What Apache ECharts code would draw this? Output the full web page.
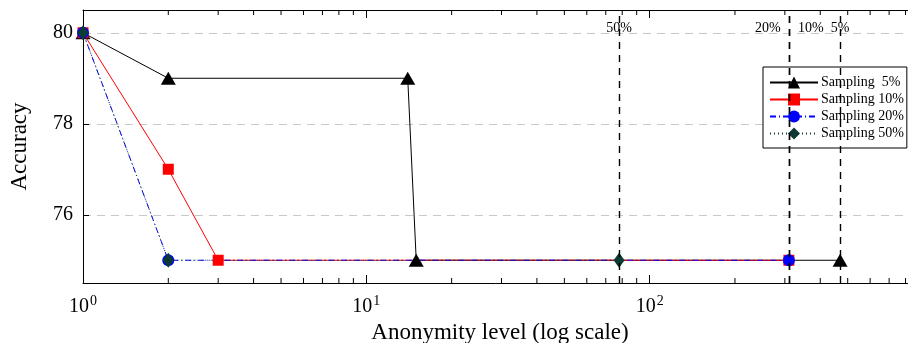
<!DOCTYPE html>
<html>
<head>
<meta charset="utf-8">
<script src="https://cdn.jsdelivr.net/npm/echarts@6/dist/echarts.min.js"></script>
<style>
  html, body { margin: 0; padding: 0; background: #fff; }
  #chart { width: 908px; height: 343px; }
</style>
</head>
<body>
<div id="chart"></div>
<script>
// anonymity level (x) and accuracy (y) per sampling rate
var s5x = [1, 2, 14, 15, 470];
var s5y = [80, 79, 79, 75, 75];
var s10x = [1, 2, 3, 310];
var s10y = [80, 77, 75, 75];
var s20x = [1, 2, 310];
var s20y = [80, 75, 75];
var s50x = [1, 2, 78];
var s50y = [80, 75, 75];

// max anonymity level marks
var markX = [78, 310, 310, 470];
var markText = ['50%', '20%', '10%', '5%'];

var yTicks = [76, 78, 80];
var xMinor = [2, 3, 4, 5, 6, 7, 8, 9, 20, 30, 40, 50, 60, 70, 80, 90,
  200, 300, 400, 500, 600, 700, 800, 900];

var FONT = 'Liberation Serif';

function pairs(xs, ys) {
  return xs.map(function (x, i) { return [x, ys[i]]; });
}

var chart = echarts.init(document.getElementById('chart'));

var markOffsets = { '50%': [0, 30], '20%': [-21, 30], '10%': [22, 30], '5%': [0, 30] };

chart.setOption({
  animation: false,
  backgroundColor: '#fff',
  grid: { left: 83, right: -25, top: 10, bottom: 60, outerBoundsMode: 'none', containLabel: false },
  legend: {
    orient: 'vertical',
    left: 763,
    top: 67,
    padding: [8, 3, 7, 6],
    itemGap: 2,
    itemWidth: 48,
    itemHeight: 15,
    borderColor: '#000',
    borderWidth: 1,
    backgroundColor: '#fff',
    textStyle: { fontFamily: FONT, fontSize: 14, color: '#000', lineHeight: 15, padding: [0, 0, 0, -2] },
    data: ['Sampling  5%', 'Sampling 10%', 'Sampling 20%', 'Sampling 50%']
  },
  xAxis: [{
    type: 'log',
    logBase: 10,
    min: 1,
    max: 1000,
    name: 'Anonymity level (log scale)',
    nameLocation: 'middle',
    nameGap: 36,
    nameTextStyle: { fontFamily: FONT, fontSize: 23, color: '#000', padding: [0, 16, 0, 0] },
    axisLine: { lineStyle: { color: '#000', width: 1 } },
    axisTick: { inside: true, length: 8, lineStyle: { color: '#000' } },
    splitLine: { show: false },
    axisLabel: {
      margin: 11,
      formatter: function (v) {
        return '{b|10}{s|' + Math.round(Math.log10(v)) + '}';
      },
      rich: {
        b: { fontFamily: FONT, fontSize: 20, color: '#000' },
        s: { fontFamily: FONT, fontSize: 14, color: '#000', padding: [0, 0, 12, 1] }
      }
    }
  }, {
    type: 'log',
    logBase: 10,
    min: 1,
    max: 1000,
    position: 'top',
    axisLine: { lineStyle: { color: '#000', width: 1 } },
    axisTick: { inside: true, length: 8, lineStyle: { color: '#000' } },
    axisLabel: { show: false },
    splitLine: { show: false }
  }],
  yAxis: {
    type: 'value',
    min: 74.5,
    max: 80.5,
    name: 'Accuracy',
    nameLocation: 'middle',
    nameGap: 52,
    nameTextStyle: { fontFamily: FONT, fontSize: 23, color: '#000' },
    axisLine: { show: true, lineStyle: { color: '#000', width: 1 } },
    axisTick: { inside: true, length: 6, customValues: yTicks, lineStyle: { color: '#000' } },
    axisLabel: { customValues: yTicks, margin: 10, fontFamily: FONT, fontSize: 20, color: '#000' },
    splitLine: { show: true, lineStyle: { color: '#c8c8c8', type: [8, 6], width: 1 } }
  },
  series: [
    {
      type: 'custom',
      name: 'minor',
      silent: true,
      z: 1,
      data: xMinor.map(function (v) { return [v, 80]; }),
      renderItem: function (params, api) {
        var cs = params.coordSys;
        var x = api.coord([api.value(0), 80])[0];
        var st = { stroke: '#000', lineWidth: 1 };
        return {
          type: 'group',
          children: [
            { type: 'line', shape: { x1: x, y1: cs.y + cs.height, x2: x, y2: cs.y + cs.height - 5 }, style: st },
            { type: 'line', shape: { x1: x, y1: cs.y, x2: x, y2: cs.y + 5 }, style: st }
          ]
        };
      }
    },
    {
      name: 'Sampling  5%',
      type: 'line',
      data: pairs(s5x, s5y),
      symbol: 'triangle',
      symbolSize: [15, 13],
      color: '#000',
      lineStyle: { color: '#000', width: 1 },
      itemStyle: { color: '#000' },
      markLine: {
        silent: true,
        symbol: 'none',
        lineStyle: { color: '#000', type: [7, 6], width: 1.4 },
        label: {
          show: true,
          position: 'end',
          fontFamily: FONT,
          fontSize: 14,
          color: '#000',
          formatter: function (p) { return p.name; }
        },
        data: markX.map(function (x, i) {
          return { xAxis: x, name: markText[i], label: { offset: markOffsets[markText[i]] } };
        })
      }
    },
    {
      name: 'Sampling 10%',
      type: 'line',
      data: pairs(s10x, s10y),
      symbol: 'rect',
      symbolSize: 11,
      color: '#ff0000',
      lineStyle: { color: '#ff0000', width: 1 },
      itemStyle: { color: '#ff0000' }
    },
    {
      name: 'Sampling 20%',
      type: 'line',
      data: pairs(s20x, s20y),
      symbol: 'circle',
      symbolSize: 12,
      color: '#0000ff',
      lineStyle: { color: '#0000ff', width: 1, type: [6, 3, 1, 3] },
      itemStyle: { color: '#0000ff' }
    },
    {
      name: 'Sampling 50%',
      type: 'line',
      data: pairs(s50x, s50y),
      symbol: 'diamond',
      symbolSize: [11, 15],
      color: '#0b3b33',
      lineStyle: { color: '#0b3b33', width: 1, type: [1, 3] },
      itemStyle: { color: '#0b3b33' }
    }
  ]
});
</script>
</body>
</html>
